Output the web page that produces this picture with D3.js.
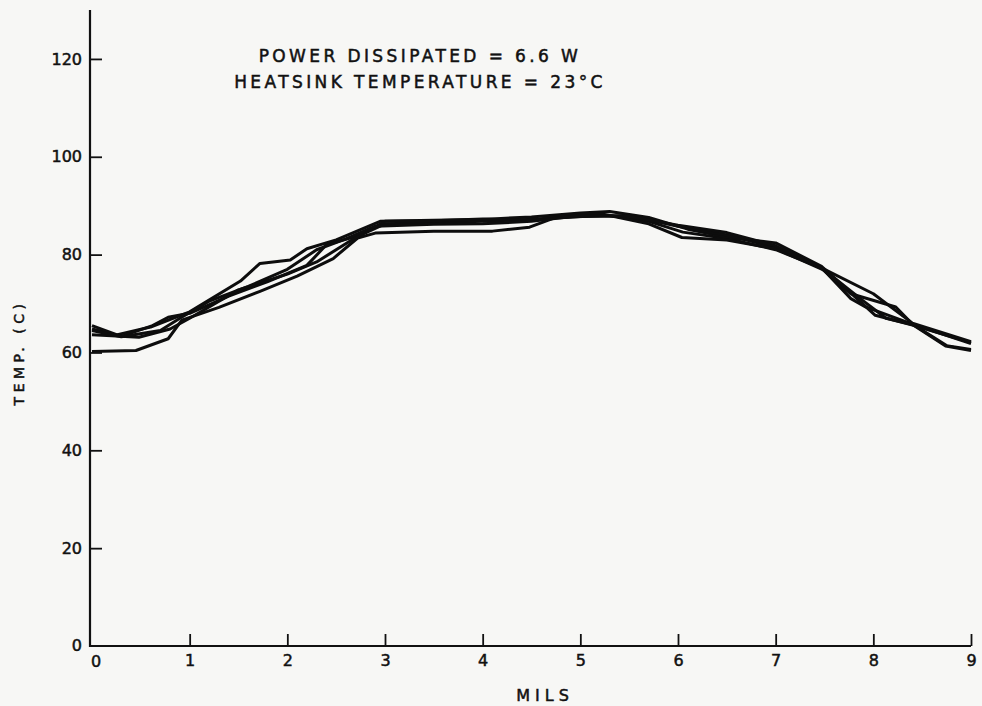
<!DOCTYPE html>
<html>
<head>
<meta charset="utf-8">
<script src="https://cdn.jsdelivr.net/npm/d3@7"></script>
<style>
  body { margin: 0; background: #f7f7f5; }
  svg { display: block; }
  .axis path, .axis line { stroke: #111; }
  .axis text { font-family: "DejaVu Sans", sans-serif; fill: #111; stroke: #111; stroke-width: 0.5px; }
  .lbl { font-family: "DejaVu Sans", sans-serif; fill: #111; stroke: #111; stroke-width: 0.5px; }
</style>
</head>
<body>
<svg id="chart"></svg>
<script>
// data: [mils, temp C]
const run1 = [[0,60.2],[0.45,60.4],[0.78,62.8],[0.92,66.6],[1.3,69.2],[1.72,72.5],[2.1,75.6],[2.47,79.2],[2.72,83.4],[2.9,84.4],[3.5,84.8],[4.1,84.8],[4.48,85.6],[4.75,87.6],[5.3,88.0],[5.7,86.8],[6.05,84.6],[6.5,83.3],[7.0,81.0],[7.47,77.3],[7.77,71.0],[7.92,69.3],[8.4,65.8],[8.75,61.4],[9.0,60.6]];
const run2 = [[0,64.8],[0.25,63.6],[0.6,65.2],[1.0,68.3],[1.52,74.6],[1.72,78.2],[2.03,78.9],[2.2,81.2],[2.5,83.0],[2.95,86.8],[3.5,87.0],[4.0,87.2],[4.5,87.7],[5.0,88.5],[5.3,88.8],[5.7,87.6],[6.1,85.2],[6.55,83.4],[7.0,82.4],[7.47,77.6],[8.02,67.6],[8.4,65.6],[9.0,62.0]];
const run3 = [[0,65.5],[0.3,63.3],[0.62,65.5],[0.78,67.2],[1.0,68.0],[1.4,71.5],[1.8,74.5],[2.2,77.8],[2.4,82.0],[2.75,84.0],[3.0,86.3],[3.5,86.5],[4.0,86.8],[4.6,87.3],[5.0,87.8],[5.5,88.0],[6.0,85.8],[6.5,84.0],[7.0,81.5],[7.47,77.2],[7.77,72.0],[8.23,69.3],[8.4,65.8],[9.0,61.8]];
const run4 = [[0,63.6],[0.2,63.4],[0.48,63.1],[0.8,64.8],[1.0,67.0],[1.5,72.8],[2.0,76.0],[2.3,78.5],[2.7,83.5],[3.0,86.8],[3.5,86.9],[4.0,87.3],[4.5,87.0],[4.8,88.0],[5.2,88.4],[5.7,86.3],[6.04,83.5],[6.5,83.0],[7.0,81.2],[7.5,76.8],[7.9,70.5],[8.13,67.0],[8.4,65.7],[8.74,61.3],[9.0,60.4]];
const run5 = [[0,64.5],[0.3,63.2],[0.7,64.5],[0.9,67.0],[1.2,70.5],[1.6,73.5],[2.0,77.0],[2.3,81.0],[2.6,83.2],[2.9,85.8],[3.5,86.2],[4.0,86.3],[4.5,86.8],[5.0,88.0],[5.5,87.8],[6.0,86.0],[6.5,84.5],[7.0,81.8],[7.5,77.0],[8.0,72.0],[8.4,66.0],[9.0,62.2]];
const runs = [run1, run2, run3, run4, run5];

const xTicks = [1, 2, 3, 4, 5, 6, 7, 8, 9];
const yTicks = [20, 40, 60, 80, 100, 120];
const notes = ["POWER DISSIPATED = 6.6 W", "HEATSINK TEMPERATURE = 23\u00B0C"];

// set the dimensions and margins of the graph
var margin = {top: 10, right: 9, bottom: 60, left: 90},
  width = 982 - margin.left - margin.right,
  height = 706 - margin.top - margin.bottom;

var x = d3.scaleLinear().domain([0, 9]).range([2, width - 2]);
var y = d3.scaleLinear().domain([0, 130]).range([height, 0]);

var svg = d3.select("#chart")
  .attr("width", width + margin.left + margin.right)
  .attr("height", height + margin.top + margin.bottom);

var g = svg.append("g")
  .attr("transform", "translate(" + margin.left + "," + margin.top + ")");

// the measured runs
var line = d3.line()
  .x(function(d) { return x(d[0]); })
  .y(function(d) { return y(d[1]); });

g.selectAll(".run")
  .data(runs)
  .enter().append("path")
  .attr("class", "run")
  .attr("d", line)
  .attr("fill", "none")
  .attr("stroke", "#0d0d0d")
  .attr("stroke-width", 3)
  .attr("stroke-linejoin", "round");

// x axis, ticks point up into the plot
var xAxis = g.append("g")
  .attr("class", "axis")
  .attr("transform", "translate(0," + height + ")")
  .call(d3.axisBottom(x).tickValues(xTicks).tickSize(-12).tickPadding(9).tickSizeOuter(0));
xAxis.select(".domain").attr("d", "M-1,0H" + x(9)).attr("stroke-width", 2);
xAxis.selectAll("line").attr("stroke-width", 1.8);
xAxis.selectAll("text").style("font-size", "16px");

// "0" under the origin
xAxis.append("text")
  .attr("x", x(0) + 4).attr("y", 21)
  .attr("text-anchor", "middle")
  .style("font-size", "16px")
  .text("0");

// y axis, ticks point right into the plot
var yAxis = g.append("g")
  .attr("class", "axis")
  .call(d3.axisLeft(y).tickValues(yTicks).tickSize(-12).tickPadding(8).tickSizeOuter(0));
yAxis.select(".domain").attr("d", "M0," + y(130) + "V" + (y(0) + 1)).attr("stroke-width", 2.2);
yAxis.selectAll("line").attr("stroke-width", 1.8);
yAxis.selectAll("text").style("font-size", "16px");

yAxis.append("text")
  .attr("x", -8).attr("y", y(0))
  .attr("dy", "0.32em")
  .attr("text-anchor", "end")
  .style("font-size", "16px")
  .text("0");

// axis titles
svg.append("text")
  .attr("class", "lbl")
  .attr("transform", "translate(24," + (margin.top + y(60)) + ") rotate(-90)")
  .attr("text-anchor", "middle")
  .style("font-size", "14px")
  .style("letter-spacing", "4.5px")
  .text("TEMP. (C)");

svg.append("text")
  .attr("class", "lbl")
  .attr("x", 545).attr("y", 701)
  .attr("text-anchor", "middle")
  .style("font-size", "16px")
  .style("letter-spacing", "5px")
  .text("MILS");

// conditions note
svg.selectAll(".note")
  .data(notes)
  .enter().append("text")
  .attr("class", "note lbl")
  .attr("x", 420)
  .attr("y", function(d, i) { return 62 + i * 26; })
  .attr("text-anchor", "middle")
  .style("font-size", "17px")
  .style("letter-spacing", "3.4px")
  .text(function(d) { return d; });
</script>
</body>
</html>
